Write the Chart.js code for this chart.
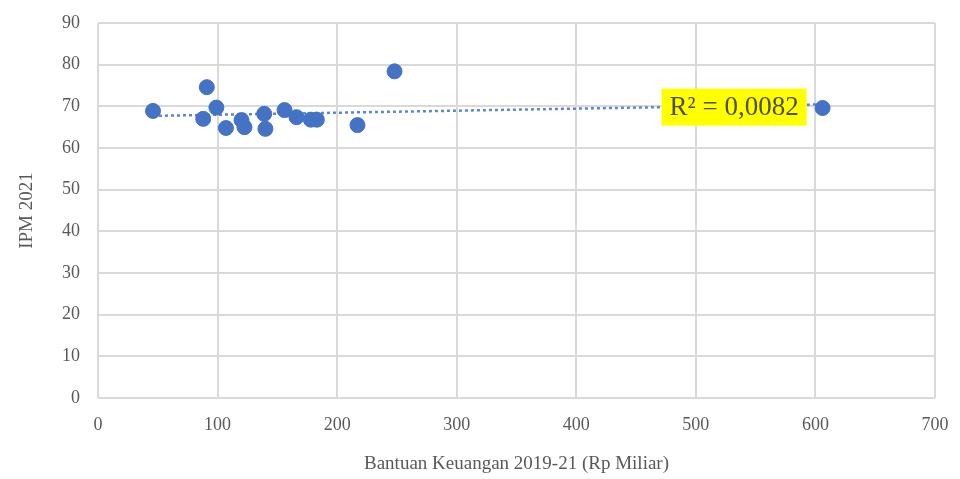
<!DOCTYPE html>
<html>
<head>
<meta charset="utf-8">
<script src="https://cdn.jsdelivr.net/npm/chart.js@4.4.1/dist/chart.umd.min.js"></script>
<style>
  html, body { margin: 0; padding: 0; background: #ffffff; }
  #wrap { width: 960px; height: 479px; }
</style>
</head>
<body>
<div id="wrap"><canvas id="c" width="960" height="479"></canvas></div>
<script>
// Financial aid 2019-21 (Rp billion) per region vs. HDI (IPM) 2021
const bantuan = [46, 91, 99, 88, 107, 120, 122.5, 139, 140, 156, 166, 178, 183, 217, 248, 606];
const ipm     = [68.9, 74.6, 69.7, 67.0, 64.8, 66.7, 65.0, 68.2, 64.6, 69.1, 67.4, 66.8, 66.8, 65.5, 78.4, 69.6];
const xTicks = [0, 100, 200, 300, 400, 500, 600, 700];
const yTicks = [0, 10, 20, 30, 40, 50, 60, 70, 80, 90];
const rSquaredText = 'R² = 0,0082';
const labelAt = { x: 532, y: 69.8 };

// Least-squares linear trend over the observed range
const n = bantuan.length;
const mx = bantuan.reduce((a, b) => a + b, 0) / n;
const my = ipm.reduce((a, b) => a + b, 0) / n;
let sxy = 0, sxx = 0;
for (let i = 0; i < n; i++) {
  sxy += (bantuan[i] - mx) * (ipm[i] - my);
  sxx += (bantuan[i] - mx) * (bantuan[i] - mx);
}
const slope = sxy / sxx;
const intercept = my - slope * mx;
const xMin = Math.min(...bantuan), xMax = Math.max(...bantuan);
const trend = [
  { x: xMin, y: intercept + slope * xMin },
  { x: xMax, y: intercept + slope * xMax }
];

const points = bantuan.map((x, i) => ({ x: x, y: ipm[i] }));

const SERIF = "'Liberation Serif', 'Times New Roman', serif";
const TEXT = '#595959';
const BLUE = '#4472C4';

// Yellow R² box anchored in data coordinates
const rLabel = {
  id: 'rLabel',
  afterDatasetsDraw(chart) {
    const ctx = chart.ctx;
    const cx = chart.scales.x.getPixelForValue(labelAt.x);
    const cy = chart.scales.y.getPixelForValue(labelAt.y);
    ctx.save();
    ctx.font = '27px ' + SERIF;
    const w = ctx.measureText(rSquaredText).width + 16;
    const h = 37;
    ctx.fillStyle = '#FFFF00';
    ctx.fillRect(cx - w / 2, cy - h / 2, w, h);
    ctx.fillStyle = '#4f4f22';
    ctx.textAlign = 'center';
    ctx.textBaseline = 'middle';
    ctx.fillText(rSquaredText, cx, cy + 1);
    ctx.restore();
  }
};

new Chart(document.getElementById('c'), {
  type: 'scatter',
  data: {
    datasets: [
      {
        label: 'IPM 2021',
        data: points,
        backgroundColor: BLUE,
        borderColor: BLUE,
        pointRadius: 7.5,
        pointHoverRadius: 7.5,
        order: 1
      },
      {
        type: 'line',
        label: 'Trend',
        data: trend,
        borderColor: '#5B86D1',
        borderWidth: 2.5,
        borderDash: [3, 3],
        pointRadius: 0,
        fill: false,
        order: 2
      }
    ]
  },
  options: {
    responsive: false,
    animation: false,
    layout: { padding: { top: 23, right: 25, left: 0, bottom: 0 } },
    plugins: {
      legend: { display: false },
      tooltip: { enabled: false }
    },
    scales: {
      x: {
        type: 'linear',
        min: 0,
        max: 700,
        afterBuildTicks(scale) { scale.ticks = xTicks.map(v => ({ value: v })); },
        afterFit(scale) {
          scale.height = 81;
          scale.paddingLeft = 0;
          scale.paddingRight = 0;
        },
        grid: { color: '#d9d9d9', lineWidth: 2, drawTicks: false },
        border: { display: false },
        ticks: { color: TEXT, font: { family: SERIF, size: 18 }, padding: 16 },
        title: {
          display: true,
          text: 'Bantuan Keuangan 2019-21 (Rp Miliar)',
          color: TEXT,
          font: { family: SERIF, size: 19 },
          padding: { top: 9 }
        }
      },
      y: {
        type: 'linear',
        min: 0,
        max: 90,
        afterBuildTicks(scale) { scale.ticks = yTicks.map(v => ({ value: v })); },
        afterFit(scale) {
          scale.width = 98;
          scale.paddingTop = 0;
          scale.paddingBottom = 0;
        },
        grid: { color: '#d9d9d9', lineWidth: 2, drawTicks: false },
        border: { display: false },
        ticks: { color: TEXT, font: { family: SERIF, size: 18 }, padding: 18 },
        title: {
          display: true,
          text: 'IPM 2021',
          color: TEXT,
          font: { family: SERIF, size: 19 },
          padding: { top: 16, bottom: 0 }
        }
      }
    }
  },
  plugins: [rLabel]
});
</script>
</body>
</html>
